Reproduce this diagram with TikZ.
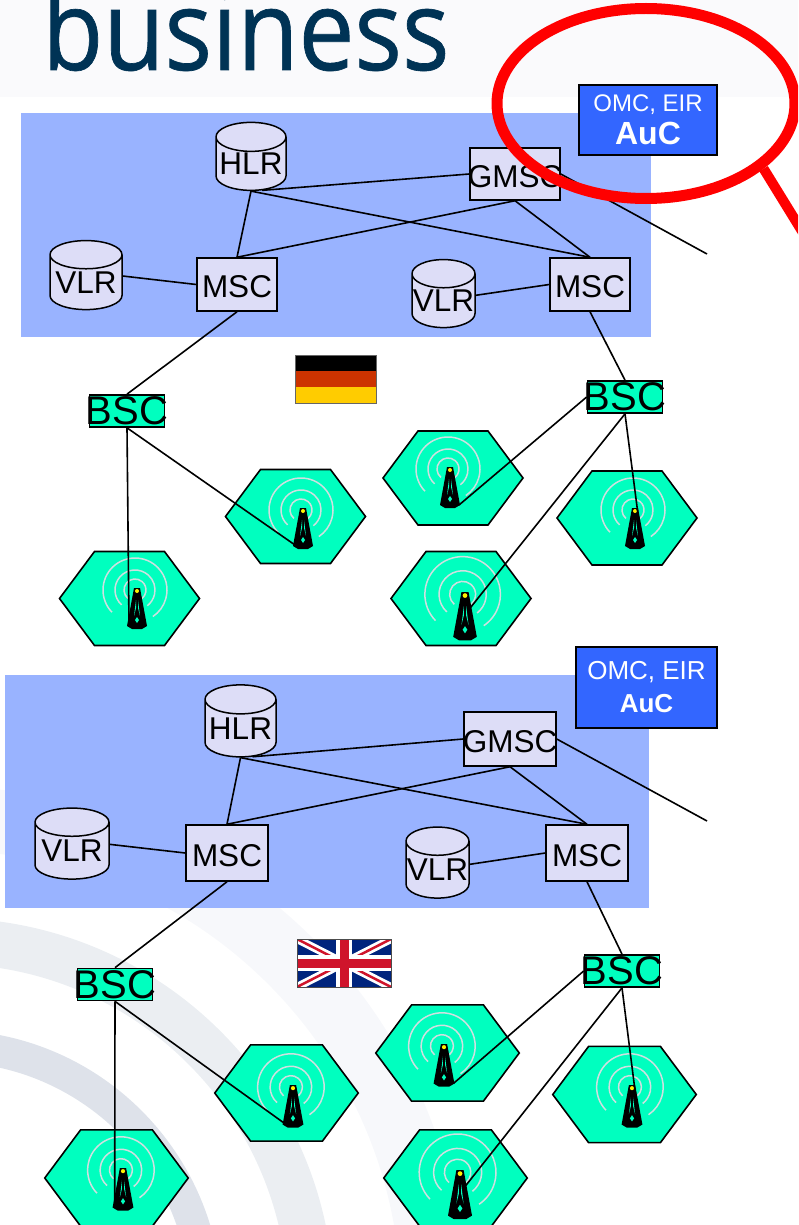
\documentclass[tikz,border=0pt]{standalone}
\usepackage{fontspec}
\usepackage{xcolor}
\usetikzlibrary{shapes.geometric}
\setmainfont{Liberation Sans}
\newfontfamily\brandfont[FakeStretch=0.89, FakeBold=0.6]{Open Sans}
\definecolor{stripgray}{HTML}{FAFAFC}
\definecolor{brandnavy}{HTML}{003355}
\definecolor{areablue}{HTML}{99B3FF}
\definecolor{boxblue}{HTML}{3366FF}
\definecolor{lilac}{HTML}{DDDDF7}
\definecolor{cellgreen}{HTML}{00FFBF}
\definecolor{ringgray}{HTML}{CFE0E0}
\definecolor{waveone}{HTML}{F7F8FB}
\definecolor{wavetwo}{HTML}{EBEEF2}
\definecolor{wavethree}{HTML}{DEE2EA}
\definecolor{flagred}{HTML}{CC3300}
\definecolor{flaggold}{HTML}{FFCC00}
\definecolor{ukblue}{HTML}{00247D}
\definecolor{ukred}{HTML}{CF142B}
\tikzset{
  area/.style={fill=areablue, inner sep=0pt},
  opsbox/.style={draw=black, line width=1.5pt, fill=boxblue, text=white, inner sep=0pt, align=center},
  netbox/.style={draw=black, line width=1.5pt, fill=lilac, inner sep=0pt, text height=27pt, font=\fontsize{31.5}{32}\selectfont},
  netdb/.style={cylinder, shape border rotate=90, aspect=0.46, draw=black, line width=1.5pt, fill=lilac, inner sep=0pt, font=\fontsize{31.5}{32}\selectfont},
  bscbox/.style={draw=black, line width=1.7pt, fill=cellgreen, inner sep=0pt, minimum width=75pt, minimum height=32pt, font=\fontsize{40}{40}\selectfont},
  link/.style={line width=1.6pt, black},
  cell/.pic={
    \draw[line width=1.6pt, fill=cellgreen] (-70,0) -- (-35,-47) -- (35,-47) -- (70,0) -- (35,47) -- (-35,47) -- cycle;
  },
  mast/.pic={
    \draw[ringgray, line width=1.5pt] (-2,2) ++(130:11) arc[start angle=130, end angle=410, radius=11];
    \draw[ringgray, line width=1.5pt] (-2,2) ++(132:20) arc[start angle=132, end angle=412, radius=20];
    \draw[ringgray, line width=1.5pt] (-2,2) ++(136:32) arc[start angle=136, end angle=416, radius=32];
    \fill[black] (-3,0) -- (3,0) -- (10,38) -- (5,41) -- (-5,41) -- (-10,38) -- cycle;
    \fill[cellgreen] (-1,12) -- (-1,20) -- (-3,28) -- cycle;
    \fill[cellgreen] (1,12) -- (1,20) -- (3,28) -- cycle;
    \fill[cellgreen] (0,29) -- (2,32) -- (0,35) -- (-2,32) -- cycle;
    \fill[yellow] (0,3) circle (2);
    \coordinate (-foot) at (0,38);
    \coordinate (-left) at (-8,37);
    \coordinate (-right) at (9,38);
    \coordinate (-mid) at (4,14);
  }
}
\newcommand{\nowidth}[1]{\makebox[0pt][c]{#1}}
\begin{document}
\begin{tikzpicture}[x=1pt, y=-1pt]
  \useasboundingbox (0,0) rectangle (798,1225);
  % Page background
  \begin{scope}
    \clip (0,0) rectangle (798,1225);
    \fill[stripgray] (0,0) rectangle (798,97);
    \node[text=brandnavy, font=\brandfont\fontsize{112}{112}\selectfont, anchor=base west, inner sep=0pt] (brand) at (42,70) {business};
    \coordinate (wave) at (-53,1305);
    \draw[line width=64pt, waveone] (wave) circle (486);
    \draw[line width=46pt, wavetwo] (wave) circle (364);
    \draw[line width=32pt, wavethree] (wave) circle (259);
  \end{scope}

  % German network area
  \node[area, minimum width=630pt, minimum height=224pt] (areaA) at (336,225) {};
  \node[opsbox, minimum width=138pt, minimum height=70pt, font=\fontsize{24}{33}\selectfont] (opsA) at (648,120) {OMC, EIR\\{\fontsize{32}{33}\selectfont\bfseries AuC}};
  \node[netdb, minimum width=70pt, minimum height=68pt] (hlrA) at (251,164) {HLR};
  \node[netdb, minimum width=72pt, minimum height=69pt] (vlrlA) at (86,282.5) {VLR};
  \node[netdb, minimum width=63pt, minimum height=68pt] (vlrrA) at (443.5,301) {VLR};
  \node[netbox, minimum width=90pt, minimum height=52pt] (gmscA) at (515,174) {\nowidth{GMSC}};
  \node[netbox, minimum width=80pt, minimum height=53pt] (msclA) at (237,284.5) {MSC};
  \node[netbox, minimum width=80pt, minimum height=53pt] (mscrA) at (590,284.5) {MSC};
  \node[bscbox] (bsclA) at (127,411) {\nowidth{BSC}};
  \node[bscbox] (bscrA) at (625,397) {\nowidth{BSC}};
  \coordinate (outA) at (707,254);

  % German flag
  \fill[black] (295,355) rectangle (376,371);
  \fill[flagred] (295,371) rectangle (376,387);
  \fill[flaggold] (295,387) rectangle (376,403);
  \draw[black!60, line width=1pt] (295,355) rectangle (376,403);

  % German cells
  \pic (cellA) at (129.5,598.5) {cell};
  \pic (cellB) at (295.5,516.5) {cell};
  \pic (cellC) at (453,478) {cell};
  \pic (cellD) at (627,518) {cell};
  \pic (cellE) at (461,598.5) {cell};
  \pic (mastA) at (137,588) {mast};
  \pic (mastB) at (303,508) {mast};
  \pic (mastC) at (450,467) {mast};
  \pic (mastD) at (635,508) {mast};
  \pic[scale=1.18] (mastE) at (465,592) {mast};

  % German links
  \draw[link] (hlrA.270) -- (msclA.north);
  \draw[link] (hlrA.293) -- (gmscA.west);
  \draw[link] (hlrA.270) -- (mscrA.north);
  \draw[link] (gmscA.south) -- (msclA.north);
  \draw[link] (gmscA.south) -- (mscrA.north);
  \draw[link] (gmscA.east) -- (outA);
  \draw[link] (vlrlA.10) -- (msclA.west);
  \draw[link] (vlrrA.10) -- (mscrA.west);
  \draw[link] (msclA.south) -- (bsclA.north);
  \draw[link] (mscrA.south) -- (bscrA.north);
  \draw[link] (bsclA.south) -- (mastA-left);
  \draw[link] (bsclA.south) -- (mastB-left);
  \draw[link] (bscrA.west) -- (mastC-right);
  \draw[link] (bscrA.south) -- (mastD-mid);
  \draw[link] (bscrA.south) -- (mastE-mid);

  % British network area
  \node[area, minimum width=644pt, minimum height=233pt] (areaB) at (327,791.5) {};
  \node[opsbox, minimum width=141pt, minimum height=81pt, font=\fontsize{26}{33}\selectfont] (opsB) at (646.5,687.5) {OMC, EIR\\{\bfseries AuC}};
  \node[netdb, minimum width=71pt, minimum height=72pt] (hlrB) at (240.5,728.5) {HLR};
  \node[netdb, minimum width=74pt, minimum height=71pt] (vlrlB) at (72,851) {VLR};
  \node[netdb, minimum width=63pt, minimum height=71pt] (vlrrB) at (437.5,870) {VLR};
  \node[netbox, minimum width=92pt, minimum height=54pt] (gmscB) at (510,739) {\nowidth{GMSC}};
  \node[netbox, minimum width=82pt, minimum height=56pt] (msclB) at (227,853) {MSC};
  \node[netbox, minimum width=82pt, minimum height=56pt] (mscrB) at (587,853) {MSC};
  \node[bscbox] (bsclB) at (115,984.5) {\nowidth{BSC}};
  \node[bscbox] (bscrB) at (622,971) {\nowidth{BSC}};
  \coordinate (outB) at (707,821);

  % British flag
  \begin{scope}
    \clip (297,939) rectangle (391,987);
    \fill[ukblue] (297,939) rectangle (391,987);
    \draw[white, line width=8pt] (297,939) -- (391,987) (297,987) -- (391,939);
    \draw[ukred, line width=2.5pt] (297,939) -- (391,987) (297,987) -- (391,939);
    \draw[white, line width=16pt] (344,939) -- (344,987) (297,963) -- (391,963);
    \draw[ukred, line width=9pt] (344,939) -- (344,987) (297,963) -- (391,963);
  \end{scope}
  \draw[black!70, line width=1pt] (297,939) rectangle (391,987);

  % British cells
  \pic[scale=1.025] (cellF) at (116.5,1178) {cell};
  \pic[scale=1.025] (cellG) at (286.5,1093) {cell};
  \pic[scale=1.025] (cellH) at (447.5,1053) {cell};
  \pic[scale=1.025] (cellI) at (624.5,1094.5) {cell};
  \pic[scale=1.025] (cellJ) at (455.5,1178) {cell};
  \pic[scale=1.04] (mastF) at (123,1168) {mast};
  \pic[scale=1.04] (mastG) at (293,1085) {mast};
  \pic[scale=1.04] (mastH) at (444,1044) {mast};
  \pic[scale=1.04] (mastI) at (632,1085) {mast};
  \pic[scale=1.2] (mastJ) at (460,1170) {mast};

  % British links
  \draw[link] (hlrB.270) -- (msclB.north);
  \draw[link] (hlrB.293) -- (gmscB.west);
  \draw[link] (hlrB.270) -- (mscrB.north);
  \draw[link] (gmscB.south) -- (msclB.north);
  \draw[link] (gmscB.south) -- (mscrB.north);
  \draw[link] (gmscB.east) -- (outB);
  \draw[link] (vlrlB.10) -- (msclB.west);
  \draw[link] (vlrrB.10) -- (mscrB.west);
  \draw[link] (msclB.south) -- (bsclB.north);
  \draw[link] (mscrB.south) -- (bscrB.north);
  \draw[link] (bsclB.south) -- (mastF-left);
  \draw[link] (bsclB.south) -- (mastG-left);
  \draw[link] (bscrB.west) -- (mastH-right);
  \draw[link] (bscrB.south) -- (mastI-mid);
  \draw[link] (bscrB.south) -- (mastJ-mid);

  % Red magnifier over the top right
  \begin{scope}
    \clip (0,0) rectangle (798,1225);
    \node[ellipse, draw=red, line width=11pt, minimum width=298pt, minimum height=190pt, inner sep=0pt] (lens) at (646,103.5) {};
    \coordinate (handle) at (805,236);
    \draw[red, line width=10pt] (lens.-29) -- (handle);
  \end{scope}
\end{tikzpicture}
\end{document}
